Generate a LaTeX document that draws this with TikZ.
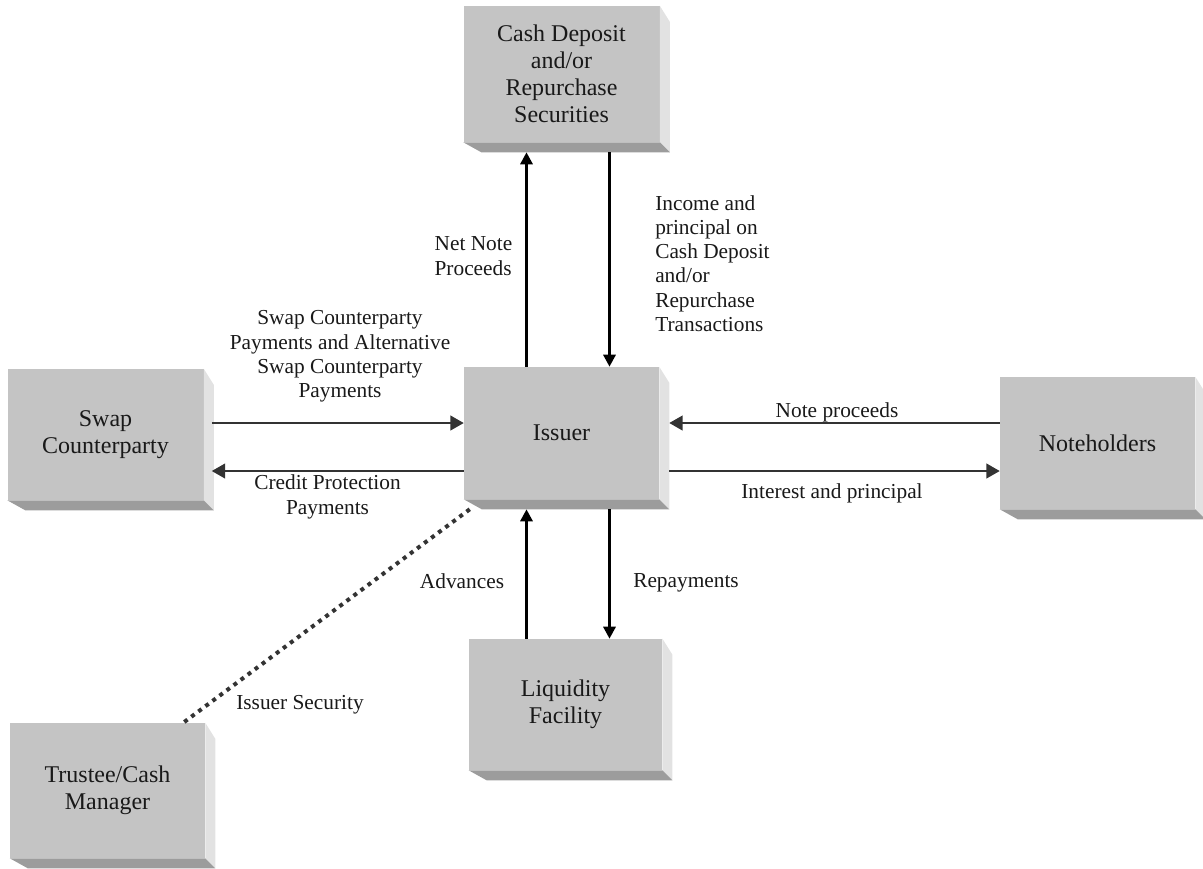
\documentclass[tikz,border=0pt]{standalone}
\usepackage{fontspec}
\setmainfont{Liberation Serif}
\usetikzlibrary{calc,arrows.meta}
\definecolor{boxface}{HTML}{C4C4C4}
\definecolor{boxside}{HTML}{E2E2E2}
\definecolor{boxbase}{HTML}{9C9C9C}
\definecolor{linkgray}{HTML}{333333}
\tikzset{
  party/.style={fill=boxface, minimum width=147pt, minimum height=99pt, align=center,
    inner sep=0pt, text=black!90, font=\fontsize{18pt}{20.3pt}\selectfont},
  flowlabel/.style={inner sep=0pt, text=black!90, font=\fontsize{16pt}{18.2pt}\selectfont},
  hflow/.style={draw=linkgray, line width=1.5pt, -{Triangle[length=10pt,width=11pt]}},
  vflow/.style={draw=black, line width=2.2pt, -{Triangle[length=9pt,width=9pt]}},
  secline/.style={draw=linkgray, line width=3pt, dash pattern=on 3pt off 3.6pt},
}

\begin{document}
\begin{tikzpicture}[x=0.75pt,y=-0.75pt]
    \useasboundingbox (0,0) rectangle (1203,868);

    \node[party, minimum height=102pt] (cash) at (561.5,74) {Cash Deposit\\and/or\\Repurchase\\Securities};
    \node[party, minimum height=98.25pt] (swap) at (105.5,434.5) {Swap\\Counterparty};
    \node[party, minimum width=146.25pt] (issuer) at (561.5,433) {Issuer};
    \node[party, minimum width=146.25pt] (notes) at (1097.5,443) {Noteholders};
    \node[party, minimum width=145pt, minimum height=98.25pt] (liq) at (565.5,704.5) {Liquidity\\Facility};
    \node[party, minimum width=146.25pt, minimum height=101.25pt] (trustee) at (107.5,790.5) {Trustee/Cash\\Manager};

    % bevelled sides of the boxes
    \foreach \n in {cash,swap,issuer,notes,liq,trustee} {
      \fill[boxside] (\n.north east) -- ++(10,16) -- ($(\n.south east)+(10,10)$) -- (\n.south east) -- cycle;
      \fill[boxbase] (\n.south west) -- ++(18,10) -- ($(\n.south east)+(10,10)$) -- (\n.south east) -- cycle;
    }

    \draw[vflow] ($(issuer.north)+(-35,0)$) -- ($(cash.south)+(-35,10)$);
    \draw[vflow] ($(cash.south)+(48,10)$) -- ($(issuer.north)+(48,0)$);
    \draw[vflow] ($(liq.north)+(-39,0)$) -- ($(issuer.south)+(-35,10)$);
    \draw[vflow] ($(issuer.south)+(48,10)$) -- ($(liq.north)+(44,0)$);

    \draw[hflow] ($(swap.east)+(8,-11.5)$) -- ($(issuer.west)+(0,-10)$);
    \draw[hflow] ($(issuer.west)+(0,38)$) -- ($(swap.east)+(8,36.5)$);
    \draw[hflow] ($(notes.west)+(0,-20)$) -- ($(issuer.east)+(10,-10)$);
    \draw[hflow] ($(issuer.east)+(10,38)$) -- ($(notes.west)+(0,28)$);

    \draw[secline] ($(issuer.south west)+(6,10)$) -- ($(trustee.north east)+(-22,0)$);

    \node[flowlabel, align=left, anchor=east] (netlbl) at (512.5,256) {Net Note\\Proceeds};
    \node[flowlabel, align=left, anchor=west] (inclbl) at (655,263.5) {Income and\\principal on\\Cash Deposit\\and/or\\Repurchase\\Transactions};
    \node[flowlabel, align=center] (swaplbl) at (340,356.5) {Swap Counterparty\\Payments and Alternative\\Swap Counterparty\\Payments};
    \node[flowlabel, align=center] (credlbl) at (327.5,497) {Credit Protection\\Payments};
    \node[flowlabel] (proclbl) at (837,412) {Note proceeds};
    \node[flowlabel] (intlbl) at (832,493) {Interest and principal};
    \node[flowlabel] (advlbl) at (462,581) {Advances};
    \node[flowlabel] (replbl) at (686,583) {Repayments};
    \node[flowlabel] (seclbl) at (300,705) {Issuer Security};
\end{tikzpicture}
\end{document}
